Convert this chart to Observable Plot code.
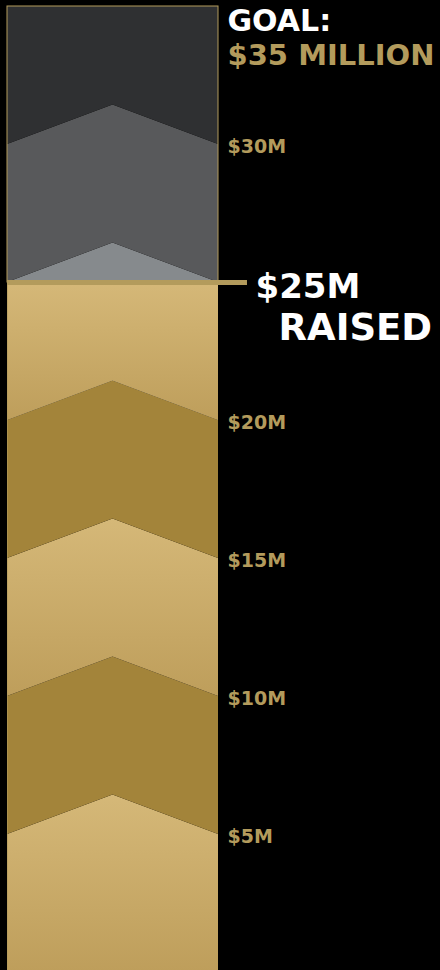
<!DOCTYPE html>
<html>
<head>
<meta charset="utf-8">
<script src="https://cdn.jsdelivr.net/npm/d3@7"></script>
<script src="https://cdn.jsdelivr.net/npm/@observablehq/plot@0.6"></script>
<style>
  html, body { margin: 0; padding: 0; background: #000; }
  #chart svg { display: block; }
</style>
</head>
<body>
<div id="chart"></div>
<script>
// ---- data ----
const goal = 35;                 // $ millions
const raised = 25;               // $ millions
const tickValues = [5, 10, 15, 20, 30];
const tickLabels = ["$5M", "$10M", "$15M", "$20M", "$30M"];
const goldLevels = [0, 5, 10, 15, 20, 25];      // filled bands (raised part)
const grayLevels = [20, 25, 30, 35];            // empty bands (remaining)
const chevronRise = 1.43;        // tip of each chevron above its level, $M

// ---- colours ----
const GOLD = "#b39b5c";
const GOLD_DARK = "#a3843a";
const GRAYS = ["#868a8d", "#58595b", "#2f3032"]; // bottom → top

function boundary(level, x, flat) {
  return flat ? level : level + chevronRise * (1 - Math.abs(2 * x - 1));
}
const xs = [0, 0.5, 1];

const grayBands = [];
for (let i = 0; i < grayLevels.length - 1; i++) {
  const lo = grayLevels[i], hi = grayLevels[i + 1];
  for (const x of xs) grayBands.push({
    band: "g" + i, x,
    y1: boundary(lo, x, false),
    y2: boundary(hi, x, hi === goal),
    fill: GRAYS[i]
  });
}
const goldBands = [];
for (let i = 0; i < goldLevels.length - 1; i++) {
  const lo = goldLevels[i], hi = goldLevels[i + 1];
  const light = (i % 2 === 0);
  for (const x of xs) goldBands.push({
    band: "b" + i, x,
    y1: boundary(lo, x, lo === 0),
    y2: boundary(hi, x, hi === raised),
    fill: light ? "url(#goldGrad)" : GOLD_DARK
  });
}
const ticks = tickValues.map((v, i) => ({value: v, label: tickLabels[i]}));

const gradientDefs = () => {
  const defs = d3.create("svg:defs");
  const g = defs.append("linearGradient").attr("id", "goldGrad")
    .attr("x1", 0).attr("y1", 0).attr("x2", 0).attr("y2", 1);
  g.append("stop").attr("offset", "0%").attr("stop-color", "#d5b878");
  g.append("stop").attr("offset", "100%").attr("stop-color", "#be9e5b");
  return defs.node();
};

const FONT = "DejaVu Sans";

const chart = Plot.plot({
  width: 440,
  height: 970,
  margin: 0,
  style: {background: "#000"},
  x: {domain: [0, 1], range: [7, 218], axis: null},
  y: {domain: [0, goal], range: [972, 6], axis: null},
  color: {type: "identity"},
  marks: [
    gradientDefs,
    Plot.areaY(grayBands, {x: "x", y1: "y1", y2: "y2", z: "band", fill: "fill"}),
    Plot.areaY(goldBands, {x: "x", y1: "y1", y2: "y2", z: "band", fill: "fill"}),
    Plot.rect([{lo: raised, hi: goal}], {x1: 0, x2: 1, y1: "lo", y2: "hi", stroke: GOLD, strokeWidth: 1, fill: "none"}),
    Plot.ruleX([0], {y1: 0, y2: raised, stroke: GOLD, strokeOpacity: 0.6, strokeWidth: 1}),
    Plot.ruleY([raised], {x1: 0, x2: 1.1374, stroke: GOLD, strokeWidth: 5}),
    Plot.text(ticks, {x: 1, y: "value", text: "label", dx: 9, dy: 2, textAnchor: "start",
      fill: GOLD, fontSize: 19, fontWeight: 900, fontFamily: FONT}),
    Plot.text(["GOAL:"], {x: 1, y: goal, text: d => d, dx: 9, dy: 15, textAnchor: "start",
      fill: "#fff", fontSize: 30, fontWeight: "bold", fontFamily: FONT}),
    Plot.text([`$${goal} MILLION`], {x: 1, y: goal, text: d => d, dx: 9, dy: 49, textAnchor: "start",
      fill: GOLD, fontSize: 29, fontWeight: "bold", fontFamily: FONT}),
    Plot.text([`$${raised}M`], {x: 1, y: raised, text: d => d, dx: 37, dy: 5, textAnchor: "start",
      fill: "#fff", fontSize: 34, fontWeight: "bold", fontFamily: FONT}),
    Plot.text(["RAISED"], {x: 1, y: raised, text: d => d, dx: 60, dy: 46, textAnchor: "start",
      fill: "#fff", fontSize: 37, fontWeight: "bold", fontFamily: FONT})
  ]
});
document.getElementById("chart").appendChild(chart);
</script>
</body>
</html>
